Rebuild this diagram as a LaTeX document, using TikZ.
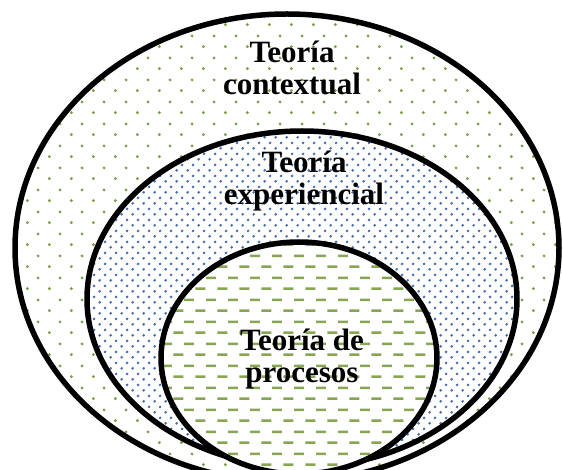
\documentclass[tikz,border=0pt]{standalone}
\usepackage{fontspec}
\setmainfont{Liberation Serif}
\usetikzlibrary{patterns.meta,shapes.geometric}
\definecolor{dotgreen}{RGB}{125,158,72}
\definecolor{dotblue}{RGB}{70,110,172}
\definecolor{dashgreen}{RGB}{135,165,82}
\tikzdeclarepattern{
  name=greendots, type=colored,
  bottom left={(0pt,0pt)}, top right={(21.7pt,21.7pt)},
  tile size={(21.7pt,21.7pt)},
  code={
    \fill[dotgreen] (5.425pt,5.425pt) circle (1.6pt);
    \fill[dotgreen] (16.275pt,16.275pt) circle (1.6pt);
  }
}
\tikzdeclarepattern{
  name=bluedots, type=colored,
  bottom left={(0pt,0pt)}, top right={(10.85pt,10.85pt)},
  tile size={(10.85pt,10.85pt)},
  code={
    \fill[dotblue] (2.71pt,2.71pt) circle (1.5pt);
    \fill[dotblue] (8.14pt,8.14pt) circle (1.5pt);
  }
}
\tikzdeclarepattern{
  name=greendashes, type=colored,
  bottom left={(0pt,0pt)}, top right={(21.7pt,21.7pt)},
  tile size={(21.7pt,21.7pt)},
  code={
    \fill[dashgreen] (0.425pt,4.125pt) rectangle (10.425pt,6.725pt);
    \fill[dashgreen] (11.275pt,14.975pt) rectangle (21.275pt,17.575pt);
  }
}
\tikzset{
  region/.style={ellipse, draw=black, line width=5.5pt, inner sep=0pt, outer sep=0pt,
    preaction={fill=white}},
  label/.style={align=center, anchor=base, inner sep=0pt,
    font=\fontsize{31}{32}\selectfont\bfseries}
}
\begin{document}
\begin{tikzpicture}[x=1pt,y=-1pt]
\useasboundingbox (0,0) rectangle (563,470);
\node[region, pattern=greendots, minimum width=544pt, minimum height=468pt] (outer) at (287,248) {};
\node[region, pattern=bluedots, minimum width=430pt, minimum height=336pt] (middle) at (302,299) {};
\node[region, pattern=greendashes, minimum width=276pt, minimum height=232pt] (inner) at (299,358) {};
\node[label] (tc) at (292,95) {Teoría\\contextual};
\node[label] (te) at (304,205) {Teoría\\experiencial};
\node[label] (tp) at (302,383) {Teoría de\\procesos};
\end{tikzpicture}
\end{document}
